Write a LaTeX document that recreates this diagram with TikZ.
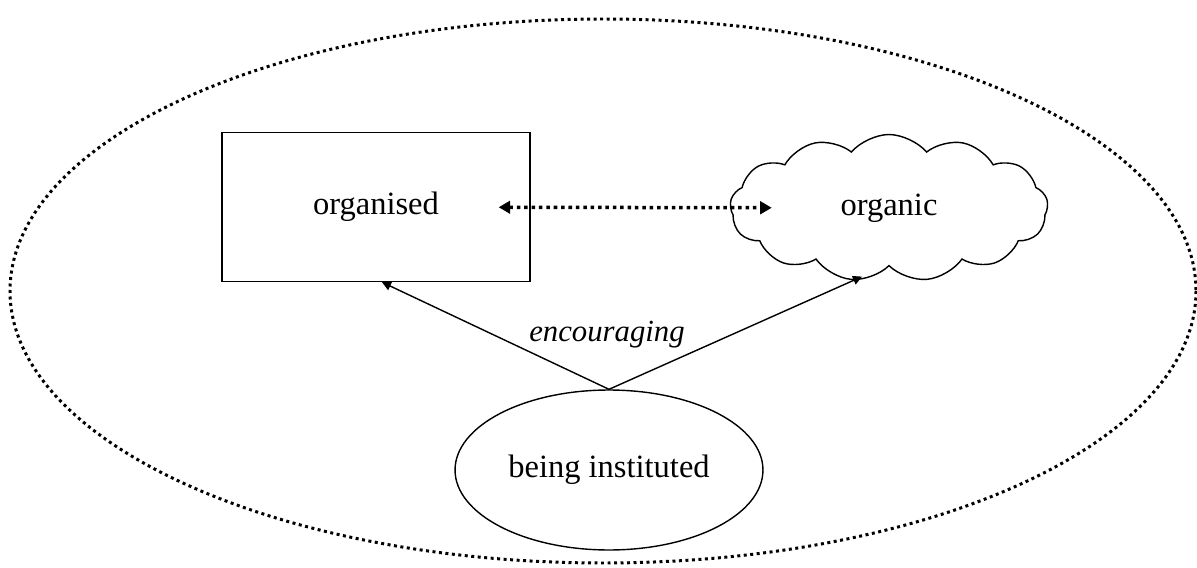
\documentclass[tikz,border=0pt]{standalone}
\usepackage{fontspec}
\setmainfont{Liberation Serif}
\usetikzlibrary{arrows.meta, shapes.geometric, shapes.symbols}

\begin{document}
\begin{tikzpicture}[x=0.02cm, y=-0.02cm, every node/.style={font=\fontsize{18.5}{22}\selectfont},
            conn/.style={line width=0.8pt, -{Triangle[length=1.8mm, width=1.8mm]}},
            link/.style={line width=2pt, dash pattern=on 2pt off 2.2pt, {Triangle[length=2.3mm, width=2.5mm]}-{Triangle[length=2.3mm, width=2.5mm]}}]
            \useasboundingbox (0,0) rectangle (1197,568);
            \draw[line width=1.7pt, dash pattern=on 1.7pt off 2pt] (603,291) ellipse [x radius=593, y radius=272];

            \node[rectangle, draw, line width=0.8pt, minimum width=6.16cm, minimum height=2.98cm] at (376, 207) (organised) {organised};
            \node[cloud, draw, line width=0.8pt, cloud puffs=13, cloud puff arc=100, aspect=2.2, minimum width=6.36cm, minimum height=2.94cm] at (889, 208) (organic) {organic};
            \node[ellipse, draw, line width=0.8pt, inner sep=0pt, minimum width=6.16cm, minimum height=3.2cm] at (609, 470) (inst) {being instituted};
            \node[font=\fontsize{17.5}{20}\selectfont\itshape] at (607, 335) (enc) {encouraging};

            \draw [link, shorten <=-0.64cm, shorten >=-0.84cm] (organised) -- (organic);
            \draw [conn] (inst.north) -- ([xshift=0.12cm]organised.south);
            \draw [conn] (inst.north) -- ([xshift=-0.54cm, yshift=-0.2cm]organic.south);
        \end{tikzpicture}
\end{document}
